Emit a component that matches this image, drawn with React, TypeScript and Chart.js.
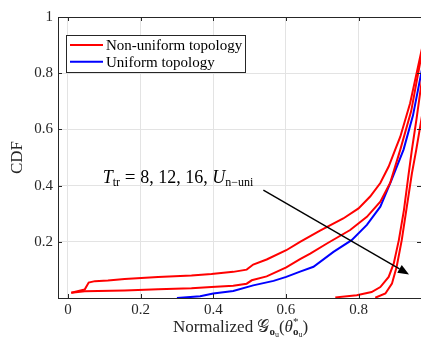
import React, { useEffect, useRef } from "react";
import { Chart, registerables } from "chart.js";

Chart.register(...registerables);

// ---------- data ----------
const xTicks = [0, 0.2, 0.4, 0.6, 0.8];
const yTicks = [0.2, 0.4, 0.6, 0.8, 1];

const red1X = [0.009, 0.046, 0.057, 0.074, 0.110, 0.156, 0.248, 0.340, 0.395, 0.455, 0.492, 0.510, 0.547, 0.601, 0.639, 0.694, 0.758, 0.800, 0.832, 0.860, 0.883, 0.901, 0.915, 0.942, 0.975];
const red1Y = [0.019, 0.030, 0.055, 0.060, 0.062, 0.068, 0.075, 0.080, 0.085, 0.093, 0.101, 0.119, 0.137, 0.170, 0.200, 0.240, 0.283, 0.319, 0.361, 0.409, 0.468, 0.528, 0.574, 0.693, 0.890];

const red2X = [0.009, 0.046, 0.156, 0.248, 0.340, 0.395, 0.455, 0.492, 0.506, 0.547, 0.601, 0.639, 0.667, 0.713, 0.777, 0.823, 0.860, 0.887, 0.915, 0.945, 0.975];
const red2Y = [0.019, 0.024, 0.027, 0.031, 0.035, 0.039, 0.044, 0.051, 0.063, 0.077, 0.109, 0.138, 0.158, 0.194, 0.242, 0.289, 0.343, 0.409, 0.528, 0.665, 0.875];

const blueX = [0.300, 0.364, 0.400, 0.455, 0.510, 0.566, 0.601, 0.639, 0.676, 0.731, 0.781, 0.823, 0.860, 0.891, 0.924, 0.950, 0.975];
const blueY = [0.000, 0.006, 0.016, 0.025, 0.045, 0.061, 0.075, 0.094, 0.111, 0.164, 0.206, 0.260, 0.325, 0.420, 0.528, 0.650, 0.815];

const red3X = [0.736, 0.795, 0.836, 0.860, 0.883, 0.897, 0.911, 0.925, 0.937, 0.947, 0.960, 0.975];
const red3Y = [0.002, 0.010, 0.021, 0.039, 0.075, 0.123, 0.206, 0.313, 0.432, 0.528, 0.640, 0.780];

const red4X = [0.846, 0.874, 0.892, 0.905, 0.919, 0.933, 0.947, 0.959, 0.975];
const red4Y = [0.001, 0.016, 0.051, 0.111, 0.206, 0.325, 0.444, 0.528, 0.650];

const legendLabels = ["Non-uniform topology", "Uniform topology"];
const legendColors = ["#ff0000", "#0000ff"];

// annotation anchor (data coords)
const annText = { x: 0.0956, y: 0.409 };
const arrowFrom = { x: 0.538, y: 0.384 };
const arrowTo = { x: 0.939, y: 0.084 };

const X_MIN = -0.0275;
const X_MAX = 0.972;

const FONT = "'Liberation Serif', 'Times New Roman', serif";
const INK = "#262626";

type Run = { t: string; font: string; dy?: number; back?: boolean };

function drawRuns(ctx: CanvasRenderingContext2D, runs: Run[], x: number, y: number, align: "left" | "center") {
  const widths = runs.map((r) => {
    ctx.font = r.font;
    return ctx.measureText(r.t).width;
  });
  let total = 0;
  const advances: number[] = [];
  runs.forEach((r, i) => {
    advances.push(total);
    if (!r.back) total += widths[i];
  });
  const start = align === "center" ? x - total / 2 : x;
  ctx.textBaseline = "alphabetic";
  ctx.textAlign = "left";
  runs.forEach((r, i) => {
    ctx.font = r.font;
    ctx.fillText(r.t, start + advances[i], y + (r.dy || 0));
  });
}

function toPts(xs: number[], ys: number[]) {
  return xs.map((x, i) => ({ x, y: ys[i] }));
}

const decor = {
  id: "decor",
  afterDraw(chart: any) {
    const { ctx, chartArea: ca } = chart;
    const xs = chart.scales.x;
    const ys = chart.scales.y;
    ctx.save();
    // top box line
    ctx.strokeStyle = INK;
    ctx.lineWidth = 1;
    ctx.beginPath();
    ctx.moveTo(ca.left, Math.round(ca.top) + 0.5);
    ctx.lineTo(ca.right, Math.round(ca.top) + 0.5);
    ctx.stroke();
    // inward ticks
    const tl = 4;
    ctx.beginPath();
    xTicks.forEach((v) => {
      const px = Math.round(xs.getPixelForValue(v)) + 0.5;
      ctx.moveTo(px, ca.bottom);
      ctx.lineTo(px, ca.bottom - tl);
      ctx.moveTo(px, ca.top);
      ctx.lineTo(px, ca.top + tl);
    });
    yTicks.forEach((v) => {
      const py = Math.round(ys.getPixelForValue(v)) + 0.5;
      ctx.moveTo(ca.left, py);
      ctx.lineTo(ca.left + tl, py);
      ctx.moveTo(ca.right, py);
      ctx.lineTo(ca.right - tl, py);
    });
    ctx.stroke();

    // legend
    const lx = 66.5, ly = 35.5, lw = 179, lh = 37;
    ctx.fillStyle = "#ffffff";
    ctx.fillRect(lx, ly, lw, lh);
    ctx.strokeStyle = "#262626";
    ctx.lineWidth = 1;
    ctx.strokeRect(lx, ly, lw, lh);
    legendLabels.forEach((lab, i) => {
      const ry = 45 + i * 16.7;
      ctx.strokeStyle = legendColors[i];
      ctx.lineWidth = 2;
      ctx.beginPath();
      ctx.moveTo(70, ry);
      ctx.lineTo(103, ry);
      ctx.stroke();
      ctx.fillStyle = "#000000";
      ctx.font = `15px ${FONT}`;
      ctx.textBaseline = "middle";
      ctx.textAlign = "left";
      ctx.fillText(lab, 106, ry + 1);
    });

    // annotation text
    ctx.fillStyle = "#000000";
    const tx = xs.getPixelForValue(annText.x);
    const ty = ys.getPixelForValue(annText.y);
    drawRuns(ctx, [
      { t: "T", font: `italic 18px ${FONT}` },
      { t: "tr", font: `12px ${FONT}`, dy: 3 },
      { t: " = ", font: `19px ${FONT}` },
      { t: "8, 12, 16, ", font: `18px ${FONT}` },
      { t: "U", font: `italic 18px ${FONT}` },
      { t: "n\u2212uni", font: `12px ${FONT}`, dy: 3 },
    ], tx, ty, "left");

    // arrow
    const ax0 = xs.getPixelForValue(arrowFrom.x);
    const ay0 = ys.getPixelForValue(arrowFrom.y);
    const ax1 = xs.getPixelForValue(arrowTo.x);
    const ay1 = ys.getPixelForValue(arrowTo.y);
    const ang = Math.atan2(ay1 - ay0, ax1 - ax0);
    const hl = 11, hw = 4.5;
    const bx = ax1 - hl * Math.cos(ang);
    const by = ay1 - hl * Math.sin(ang);
    ctx.strokeStyle = "#000000";
    ctx.lineWidth = 1.4;
    ctx.beginPath();
    ctx.moveTo(ax0, ay0);
    ctx.lineTo(bx, by);
    ctx.stroke();
    ctx.fillStyle = "#000000";
    ctx.beginPath();
    ctx.moveTo(ax1, ay1);
    ctx.lineTo(bx + hw * Math.sin(ang), by - hw * Math.cos(ang));
    ctx.lineTo(bx - hw * Math.sin(ang), by + hw * Math.cos(ang));
    ctx.closePath();
    ctx.fill();

    // x title
    ctx.fillStyle = INK;
    const cx = (ca.left + ca.right) / 2 + 1;
    drawRuns(ctx, [
      { t: "Normalized ", font: `17px ${FONT}` },
      { t: "\uD835\uDCA2", font: `17px 'DejaVu Serif', 'DejaVu Sans', ${FONT}` },
      { t: "o", font: `bold 11px ${FONT}`, dy: 3 },
      { t: "u", font: `8px ${FONT}`, dy: 5 },
      { t: "(", font: `17px ${FONT}` },
      { t: "\u03B8", font: `italic 17px ${FONT}` },
      { t: "*", font: `11px ${FONT}`, dy: -7, back: true },
      { t: "o", font: `bold 11px ${FONT}`, dy: 3 },
      { t: "u", font: `8px ${FONT}`, dy: 5 },
      { t: ")", font: `17px ${FONT}` },
    ], cx, 332, "center");

    // y title
    ctx.save();
    ctx.translate(18, (ca.top + ca.bottom) / 2);
    ctx.rotate(-Math.PI / 2);
    ctx.font = `17px ${FONT}`;
    ctx.textAlign = "center";
    ctx.textBaseline = "middle";
    ctx.fillStyle = INK;
    ctx.fillText("CDF", 0, 0);
    ctx.restore();

    ctx.restore();
  },
};

export default function App() {
  const ref = useRef<HTMLCanvasElement | null>(null);
  useEffect(() => {
    if (!ref.current) return;
    const mk = (xs: number[], ys: number[], color: string) => ({
      data: toPts(xs, ys),
      borderColor: color,
      backgroundColor: color,
      borderWidth: 2,
      pointRadius: 0,
      tension: 0,
      fill: false,
    });
    const chart = new Chart(ref.current, {
      type: "line",
      data: {
        datasets: [
          mk(red1X, red1Y, "#ff0000"),
          mk(red2X, red2Y, "#ff0000"),
          mk(red3X, red3Y, "#ff0000"),
          mk(red4X, red4Y, "#ff0000"),
          mk(blueX, blueY, "#0000ff"),
        ],
      },
      options: {
        responsive: false,
        animation: false,
        devicePixelRatio: 1,
        layout: { padding: { left: 0, right: 0, top: 17, bottom: 0 } },
        plugins: { legend: { display: false }, tooltip: { enabled: false } },
        scales: {
          x: {
            type: "linear",
            min: X_MIN,
            max: X_MAX,
            afterBuildTicks: (s: any) => {
              s.ticks = xTicks.map((v) => ({ value: v }));
            },
            afterFit: (s: any) => {
              s.height = 44;
            },
            ticks: {
              callback: (v: any) => String(v),
              font: { family: FONT, size: 15 },
              color: INK,
              padding: 3,
              maxRotation: 0,
              autoSkip: false,
            },
            grid: { color: "#e3e3e3", drawTicks: false, lineWidth: 1 },
            border: { display: true, color: INK, width: 1 },
          },
          y: {
            type: "linear",
            min: 0,
            max: 1,
            afterBuildTicks: (s: any) => {
              s.ticks = yTicks.map((v) => ({ value: v }));
            },
            afterFit: (s: any) => {
              s.width = 58;
            },
            ticks: {
              callback: (v: any) => String(v),
              font: { family: FONT, size: 15 },
              color: INK,
              padding: 5,
              autoSkip: false,
            },
            grid: { color: "#e3e3e3", drawTicks: false, lineWidth: 1 },
            border: { display: true, color: INK, width: 1 },
          },
        },
      },
      plugins: [decor],
    } as any);
    return () => chart.destroy();
  }, []);
  return (
    <div style={{ position: "fixed", left: 0, top: 0, width: 421, height: 342, background: "#fff" }}>
      <canvas ref={ref} width={421} height={342} style={{ display: "block" }} />
    </div>
  );
}
